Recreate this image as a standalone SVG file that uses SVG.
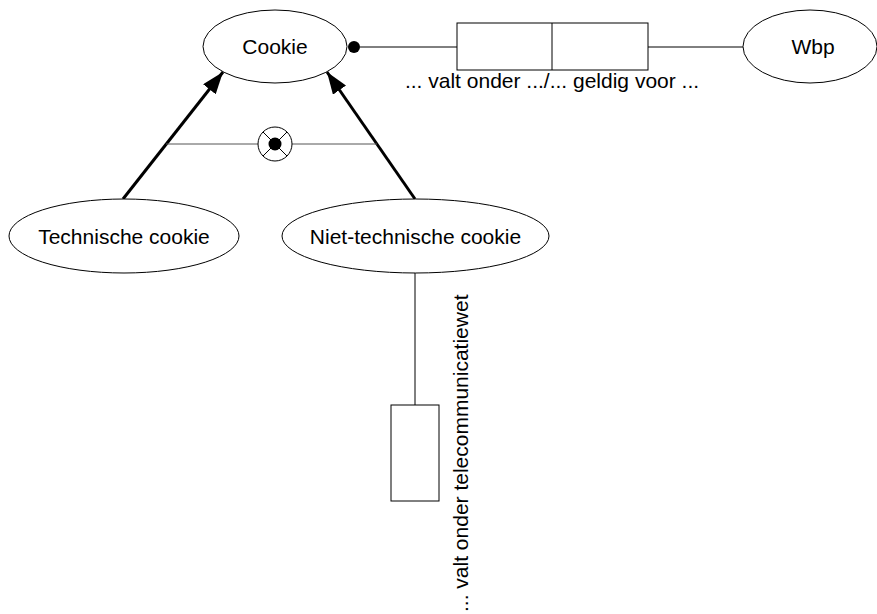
<svg xmlns="http://www.w3.org/2000/svg" width="877" height="614" viewBox="0 0 877 614">
  <defs>
    <style>
      .shape { fill: #ffffff; stroke: #000000; stroke-width: 1; }
      .line { fill: none; stroke: #000000; stroke-width: 1; }
      .grey { fill: none; stroke: #555555; stroke-width: 1; }
      .thick { fill: none; stroke: #000000; stroke-width: 3; }
      .label { font-family: "Liberation Sans", Arial, sans-serif; font-size: 21px; fill: #000000; }
      .mid { text-anchor: middle; }
    </style>
    <marker id="head" viewBox="0 0 22 16" refX="22" refY="8" markerWidth="22" markerHeight="16" markerUnits="userSpaceOnUse" orient="auto">
      <path d="M0,0 L22,8 L0,16 Z" fill="#000000"/>
    </marker>
  </defs>

  <!-- connectors -->
  <g id="connectors">
    <!-- specialisation arrows -->
    <line class="thick" x1="123" y1="199" x2="223" y2="72" marker-end="url(#head)"/>
    <line class="thick" x1="415" y1="199" x2="327" y2="72" marker-end="url(#head)"/>
    <!-- exclusion constraint between the two subtypes -->
    <line class="grey" x1="166" y1="144" x2="258" y2="144"/>
    <line class="grey" x1="292" y1="144" x2="377" y2="144"/>
    <circle class="shape" cx="275" cy="144" r="17"/>
    <line class="line" x1="263" y1="132" x2="287" y2="156"/>
    <line class="line" x1="287" y1="132" x2="263" y2="156"/>
    <circle cx="275" cy="144" r="6.5" fill="#000000"/>
    <!-- binary fact type Cookie / Wbp -->
    <circle cx="354" cy="47" r="6" fill="#000000"/>
    <line class="line" x1="360" y1="47" x2="457" y2="47"/>
    <line class="line" x1="648" y1="47" x2="743" y2="47"/>
    <!-- unary fact type on Niet-technische cookie -->
    <line class="line" x1="415" y1="273" x2="415" y2="405"/>
  </g>

  <!-- fact type boxes -->
  <g id="fact-cookie-wbp">
    <rect class="shape" x="457" y="23" width="191" height="47"/>
    <line class="line" x1="552" y1="23" x2="552" y2="70"/>
    <text class="label mid" x="552" y="88">... valt onder .../... geldig voor ...</text>
  </g>
  <g id="fact-telecom">
    <rect class="shape" x="391" y="405" width="48" height="96"/>
    <text class="label" transform="translate(468,612) rotate(-90)">... valt onder telecommunicatiewet</text>
  </g>

  <!-- object types -->
  <g id="cookie">
    <ellipse class="shape" cx="275" cy="46.5" rx="72" ry="36.5"/>
    <text class="label mid" x="275" y="54">Cookie</text>
  </g>
  <g id="wbp">
    <ellipse class="shape" cx="810" cy="46.5" rx="67" ry="36.5"/>
    <text class="label mid" x="813" y="54">Wbp</text>
  </g>
  <g id="technische-cookie">
    <ellipse class="shape" cx="124" cy="236" rx="115" ry="37"/>
    <text class="label mid" x="124" y="243.5">Technische cookie</text>
  </g>
  <g id="niet-technische-cookie">
    <ellipse class="shape" cx="415.5" cy="236" rx="133.5" ry="37"/>
    <text class="label mid" x="415.5" y="243.5">Niet-technische cookie</text>
  </g>
</svg>
